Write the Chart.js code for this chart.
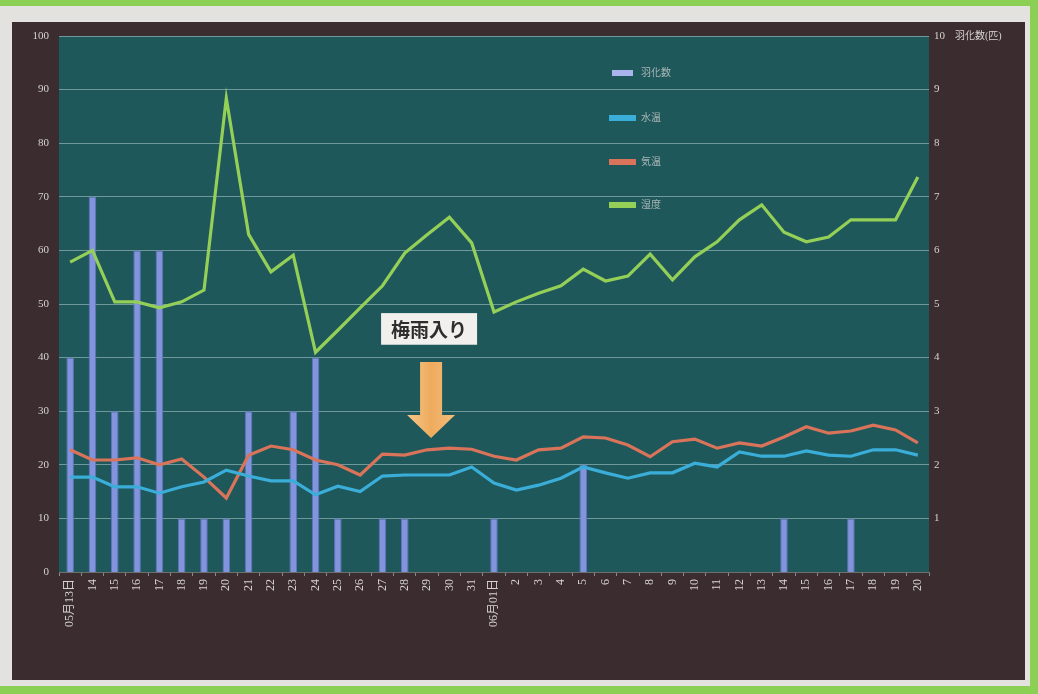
<!DOCTYPE html>
<html><head><meta charset="utf-8">
<script src="https://cdn.jsdelivr.net/npm/chart.js@4/dist/chart.umd.min.js"></script>
<style>
html,body{margin:0;padding:0;background:#8ccf55;width:1038px;height:694px;overflow:hidden}
#paper{position:absolute;left:0;top:6px;width:1030px;height:680px;background:#e4e2df}
#wrap{position:absolute;left:0;top:0;width:1038px;height:694px}
</style></head>
<body><div id="paper"></div><div id="wrap"><canvas id="c" width="1038" height="694"></canvas></div>
<script>
const labels = ["05月13日","14","15","16","17","18","19","20","21","22","23","24","25","26","27","28","29","30","31",
 "06月01日","2","3","4","5","6","7","8","9","10","11","12","13","14","15","16","17","18","19","20"];
const emergence = [4,7,3,6,6,1,1,1,3,0,3,4,1,0,1,1,0,0,0, 1,0,0,0,2,0,0,0,0,0,0,0,0,1,0,0,1,0,0,0];
const waterTemp = [17.7,17.7,15.9,15.9,14.7,15.9,16.8,19,17.9,17,17,14.4,16,15,17.9,18.1,18.1,18.1,19.6,
 16.6,15.3,16.2,17.5,19.6,18.5,17.5,18.5,18.5,20.3,19.6,22.4,21.6,21.6,22.6,21.8,21.6,22.8,22.8,21.8];
const airTemp = [22.8,20.9,20.9,21.3,20,21.1,17.7,13.8,21.8,23.5,22.8,20.9,20,18.1,22,21.8,22.8,23.1,22.9,
 21.6,20.9,22.8,23.1,25.2,25,23.7,21.5,24.3,24.8,23.1,24.1,23.5,25.2,27.1,25.9,26.3,27.4,26.5,24.1];
const humidity = [57.8,60,50.4,50.4,49.3,50.4,52.6,88.4,63,56,59.1,41,45.1,49.3,53.4,59.5,62.9,66.2,61.4,
 48.5,50.4,52,53.4,56.5,54.3,55.2,59.3,54.5,58.8,61.6,65.7,68.5,63.4,61.6,62.5,65.7,65.7,65.7,73.7];
const seriesNames = ["羽化数","水温","気温","湿度"];
const rightAxisTitle = "羽化数(匹)";
const annotationText = "梅雨入り";
const annotationIndex = 16; // 05/29

const SERIF = '"Liberation Serif","DejaVu Serif","Noto Sans CJK JP",serif';
const CJK = '"Noto Sans CJK JP","Noto Sans",sans-serif';
const colors = {bar:'#8394dc', barBorder:'#5f72c4', water:'#3aaed8', air:'#d9735a', hum:'#94cf58'};

const bgPlugin = {
  id:'bg',
  beforeDraw(chart){
    const {ctx, chartArea:a} = chart;
    ctx.save();
    ctx.fillStyle = '#3b2c30';
    ctx.fillRect(12,22,1013,658);
    ctx.fillStyle = '#1f585b';
    ctx.fillRect(a.left,a.top,a.right-a.left,a.bottom-a.top);
    ctx.restore();
  },
  afterDraw(chart){
    const {ctx, chartArea:a, scales} = chart;
    const y = scales.y;
    ctx.save();
    ctx.fillStyle = '#d8d4d4';
    ctx.font = '10px ' + SERIF;
    ctx.textBaseline = 'middle';
    ctx.fillText(rightAxisTitle, 955, y.getPixelForValue(100));
    const lx = 609, lys = [73,118,162,205];
    const sw = [colors.bar, colors.water, colors.air, colors.hum];
    ctx.font = '10px ' + SERIF;
    lys.forEach((ly,i)=>{
      ctx.fillStyle = sw[i];
      if(i===0){ ctx.fillStyle='#aab4ec'; ctx.fillRect(lx+3,ly-3,21,6);} else ctx.fillRect(lx,ly-3,27,6);
      ctx.fillStyle = '#a9b6b6';
      ctx.fillText(seriesNames[i], lx+32, ly);
    });
    const cx = scales.x.getPixelForValue(annotationIndex)+4;
    const bt = y.getPixelForValue(48.3), bb = y.getPixelForValue(42.4);
    ctx.fillStyle = '#f2f0ec';
    ctx.fillRect(cx-50, bt, 96, bb-bt);
    ctx.fillStyle = '#2e2e2e';
    ctx.font = 'bold 19px ' + CJK;
    ctx.textAlign = 'center';
    ctx.fillText(annotationText, cx-2, (bt+bb)/2+1);
    const at = y.getPixelForValue(39.2), hs = y.getPixelForValue(29.3), tip = y.getPixelForValue(25);
    const g = ctx.createLinearGradient(cx-24,0,cx+24,0);
    g.addColorStop(0,'#f6c787'); g.addColorStop(0.5,'#eeab5e'); g.addColorStop(1,'#f3bd7a');
    ctx.fillStyle = g;
    ctx.beginPath();
    ctx.moveTo(cx-11,at); ctx.lineTo(cx+11,at); ctx.lineTo(cx+11,hs); ctx.lineTo(cx+24,hs);
    ctx.lineTo(cx,tip); ctx.lineTo(cx-24,hs); ctx.lineTo(cx-11,hs); ctx.closePath();
    ctx.fill();
    ctx.restore();
  }
};

const lineDs = (label,data,color)=>({type:'line',label,data,yAxisID:'y',borderColor:color,backgroundColor:color,
  borderWidth:3.2,pointRadius:0,tension:0,order:1});

new Chart(document.getElementById('c'),{
  data:{labels,datasets:[
    {type:'bar',label:seriesNames[0],data:emergence,yAxisID:'y1',backgroundColor:colors.bar,borderColor:colors.barBorder,
     borderWidth:1,barPercentage:0.34,categoryPercentage:1,order:2},
    lineDs(seriesNames[1],waterTemp,colors.water),
    lineDs(seriesNames[2],airTemp,colors.air),
    lineDs(seriesNames[3],humidity,colors.hum)
  ]},
  options:{
    responsive:false,animation:false,
    layout:{padding:{left:12,right:13,top:36,bottom:14}},
    plugins:{legend:{display:false},tooltip:{enabled:false}},
    scales:{
      x:{offset:true,
        grid:{drawOnChartArea:false,drawTicks:true,tickLength:4,color:'#8a8a8a',offset:true},
        border:{color:'#6f6f6f'},
        ticks:{autoSkip:false,minRotation:90,maxRotation:90,padding:3,color:'#d6d2d2',font:{family:SERIF,size:12}},
        afterFit(s){s.height=108;}
      },
      y:{position:'left',min:0,max:100,
        ticks:{stepSize:10,padding:10,color:'#d6d2d2',font:{family:SERIF,size:11}},
        grid:{color:'rgba(190,215,215,0.5)',lineWidth:1,drawTicks:false},
        border:{display:false},
        afterFit(s){s.width=47;}
      },
      y1:{position:'right',min:0,max:10,
        ticks:{stepSize:1,padding:5,color:'#d6d2d2',font:{family:SERIF,size:11},
          callback:v=>v===0?'':v},
        grid:{display:false,drawTicks:false},border:{display:false},
        afterFit(s){s.width=96;}
      }
    }
  },
  plugins:[bgPlugin]
});
</script></body></html>
